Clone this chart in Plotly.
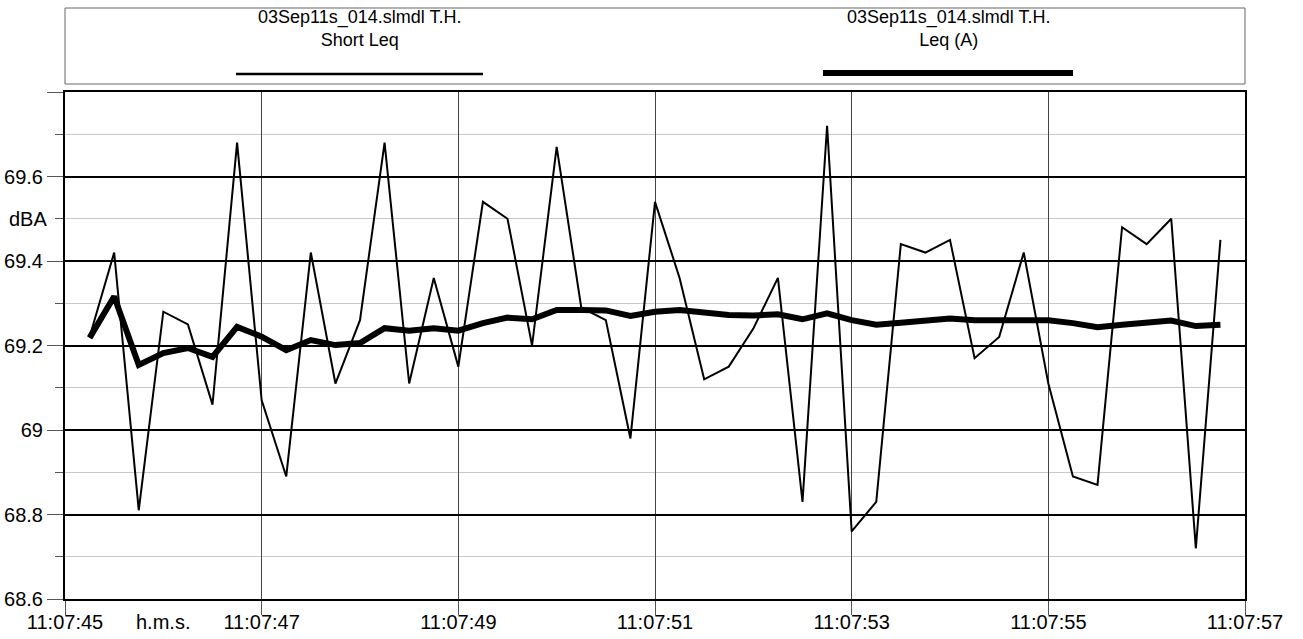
import pandas as pd
import plotly.graph_objects as go

# ---- data ----
short_leq = [69.22, 69.42, 68.81, 69.28, 69.25, 69.06, 69.68, 69.07, 68.89, 69.42,
             69.11, 69.26, 69.68, 69.11, 69.36, 69.15, 69.54, 69.50, 69.20, 69.67,
             69.29, 69.26, 68.98, 69.54, 69.36, 69.12, 69.15, 69.24, 69.36, 68.83,
             69.72, 68.76, 68.83, 69.44, 69.42, 69.45, 69.17, 69.22, 69.42, 69.11,
             68.89, 68.87, 69.48, 69.44, 69.50, 68.72, 69.45]
leq_a = [69.218, 69.316, 69.154, 69.182, 69.194, 69.173, 69.244, 69.221, 69.189, 69.213,
         69.201, 69.206, 69.241, 69.235, 69.241, 69.235, 69.253, 69.266, 69.262, 69.284,
         69.284, 69.283, 69.270, 69.280, 69.284, 69.277, 69.272, 69.271, 69.274, 69.262,
         69.276, 69.260, 69.249, 69.254, 69.258, 69.264, 69.260, 69.260, 69.263, 69.260,
         69.253, 69.243, 69.249, 69.253, 69.259, 69.246, 69.249]
start_time = "2011-09-03 11:07:45.25"
sample_step = "250ms"
times = pd.date_range(start_time, periods=len(short_leq), freq=sample_step)

x_range = ["2011-09-03 11:07:45", "2011-09-03 11:07:57"]
y_major = [68.6, 68.8, 69.0, 69.2, 69.4, 69.6, 69.8]
y_major_text = ["68.6", "68.8", "69", "69.2", "69.4", "69.6", ""]
y_minor = [68.7, 68.9, 69.1, 69.3, 69.5, 69.7]
series_title = "03Sep11s_014.slmdl T.H."
series_names = ["Short Leq", "Leq (A)"]

FONT = "Liberation Sans, Arial, sans-serif"
FS = 20
W, H = 1303, 639
L, R, T, B = 65, 58, 92, 40
PW, PH = W - L - R, H - T - B

def px_x(px):
    return (px - L) / PW

def px_y(py):
    return 1 + (T - py) / PH

fig = go.Figure()
fig.add_trace(go.Scatter(x=times, y=short_leq, mode="lines", name=series_names[0],
                         line=dict(color="black", width=2), showlegend=False))
fig.add_trace(go.Scatter(x=times, y=leq_a, mode="lines", name=series_names[1],
                         line=dict(color="black", width=6), showlegend=False))

fig.update_layout(
    width=W, height=H,
    margin=dict(l=L, r=R, t=T, b=B, pad=0, autoexpand=False),
    paper_bgcolor="white", plot_bgcolor="white",
    font=dict(family=FONT, size=FS, color="black"),
    showlegend=False,
)
fig.update_xaxes(
    type="date", range=x_range, dtick=2000, tick0="2011-09-03 11:07:45",
    tickformat="%H:%M:%S", ticks="outside", ticklen=14, tickcolor="#555",
    ticklabelstandoff=-10,
    showgrid=True, gridcolor="#444", gridwidth=1,
    showline=True, linecolor="black", linewidth=2, mirror=True,
    zeroline=False, tickfont=dict(size=FS), automargin=False,
)
fig.update_yaxes(
    range=[68.6, 69.8], tickmode="array", tickvals=y_major, ticktext=y_major_text,
    ticks="outside", ticklen=16, tickcolor="#555",
    showgrid=True, gridcolor="black", gridwidth=1.5,
    minor=dict(tickvals=y_minor, ticks="outside", ticklen=8, tickcolor="#555",
               showgrid=True, gridcolor="#c8c8c8", gridwidth=1),
    showline=True, linecolor="black", linewidth=2, mirror=True,
    zeroline=False, tickfont=dict(size=FS), automargin=False,
)

# legend box
fig.add_shape(type="rect", xref="paper", yref="paper",
              x0=0, x1=1, y0=px_y(84), y1=px_y(8),
              line=dict(color="#666", width=1), fillcolor="rgba(0,0,0,0)")
fig.add_shape(type="line", xref="paper", yref="paper",
              x0=px_x(236), x1=px_x(483), y0=px_y(74), y1=px_y(74),
              line=dict(color="black", width=2.5))
fig.add_shape(type="line", xref="paper", yref="paper",
              x0=px_x(823), x1=px_x(1073), y0=px_y(73), y1=px_y(73),
              line=dict(color="black", width=6))
for cx, nm in [(359, series_names[0]), (948, series_names[1])]:
    fig.add_annotation(xref="paper", yref="paper", x=px_x(cx), y=px_y(28),
                       text=f"{series_title}<br>{nm}", showarrow=False,
                       xanchor="center", yanchor="middle", align="center",
                       font=dict(size=18, family=FONT))

# dBA unit label on y axis
fig.add_annotation(xref="paper", yref="y", x=px_x(49), y=69.5, text="dBA",
                   showarrow=False, xanchor="right", yanchor="middle",
                   font=dict(size=FS, family=FONT))
# h.m.s. unit label on x axis
fig.add_annotation(xref="paper", yref="paper", x=px_x(163), y=px_y(622),
                   text="h.m.s.", showarrow=False, xanchor="center", yanchor="middle",
                   font=dict(size=FS, family=FONT))

fig.write_html("out.html", post_script="document.body.style.margin='0';",
               config={"displayModeBar": False})
